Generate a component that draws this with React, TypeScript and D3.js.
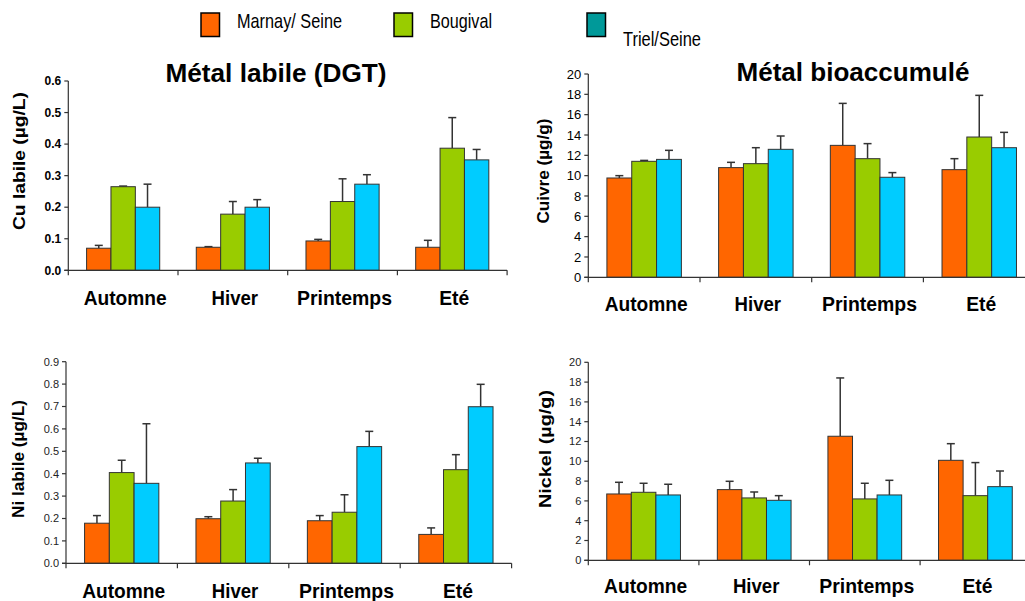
import React from "react";
import * as d3 from "d3";

// Seasons, sampling sites and colours
const seasons = ["Automne", "Hiver", "Printemps", "Eté"];
const sites = ["Marnay/ Seine", "Bougival", "Triel/Seine"];
const barColors = ["#FF6600", "#99CC00", "#00CCFF"];
const legendColors = ["#FF6600", "#99CC00", "#009999"];

// Labile copper (DGT), µg/L — rows: seasons, columns: sites
const cuLabile = [
  [0.07, 0.265, 0.2],
  [0.073, 0.178, 0.2],
  [0.093, 0.218, 0.273],
  [0.073, 0.387, 0.35],
];
const cuLabileErr = [
  [0.009, 0.002, 0.073],
  [0.002, 0.04, 0.024],
  [0.005, 0.072, 0.03],
  [0.022, 0.097, 0.033],
];

// Bioaccumulated copper, µg/g
const cuivre = [
  [9.77, 11.41, 11.6],
  [10.79, 11.18, 12.59],
  [12.98, 11.67, 9.84],
  [10.59, 13.8, 12.75],
];
const cuivreErr = [
  [0.23, 0.09, 0.89],
  [0.52, 1.57, 1.31],
  [4.13, 1.48, 0.46],
  [1.08, 4.1, 1.51],
];

// Labile nickel (DGT), µg/L
const niLabile = [
  [0.179, 0.405, 0.357],
  [0.199, 0.278, 0.448],
  [0.19, 0.228, 0.521],
  [0.129, 0.418, 0.699],
];
const niLabileErr = [
  [0.034, 0.055, 0.266],
  [0.009, 0.051, 0.021],
  [0.023, 0.078, 0.068],
  [0.029, 0.067, 0.1],
];

// Bioaccumulated nickel, µg/g
const nickel = [
  [6.7, 6.87, 6.6],
  [7.14, 6.3, 6.06],
  [12.53, 6.2, 6.6],
  [10.1, 6.53, 7.44],
];
const nickelErr = [
  [1.18, 0.91, 1.08],
  [0.84, 0.6, 0.47],
  [5.89, 1.58, 1.48],
  [1.68, 3.34, 1.58],
];

const cuLabileTicks = [0, 0.1, 0.2, 0.3, 0.4, 0.5, 0.6];
const niLabileTicks = [0, 0.1, 0.2, 0.3, 0.4, 0.5, 0.6, 0.7, 0.8, 0.9];
const bioTicks = [0, 2, 4, 6, 8, 10, 12, 14, 16, 18, 20];

const FONT = "'Liberation Sans', Arial, Helvetica, sans-serif";
const AXIS = "#333";

// The typeface is drawn slightly condensed: each text gets a fixed length
const seasonLabelWidth: Record<string, number> = {
  Automne: 83,
  Hiver: 46.5,
  Printemps: 95,
  Eté: 30,
};

type PanelProps = {
  values: number[][];
  errors: number[][];
  ticks: number[];
  tickFormat: (v: number) => string;
  x0: number;
  bandWidth: number;
  yBottom: number;
  yTop: number;
  tickFont: { size: number; weight: string; color: string };
  yLabel: string;
  yLabelPos: [number, number];
  yLabelLength: number;
  catBaseline: number;
  title?: string;
  titlePos?: [number, number];
  titleLength?: number;
};

function Panel(p: PanelProps) {
  const maxTick = p.ticks[p.ticks.length - 1];
  const y = d3.scaleLinear().domain([0, maxTick]).range([p.yBottom, p.yTop]);
  const xEnd = p.x0 + p.bandWidth * seasons.length;
  const x = d3.scaleBand().domain(seasons).range([p.x0, xEnd]).padding(0);
  const xs = d3
    .scaleBand()
    .domain(sites)
    .range([0, x.bandwidth()])
    .paddingInner(0)
    .paddingOuter(0.75);
  const bw = xs.bandwidth();
  const cap = 8;

  return (
    <g>
      {p.title && p.titlePos && (
        <text
          x={p.titlePos[0] - (p.titleLength ?? 0) / 2}
          y={p.titlePos[1]}
          fontFamily={FONT}
          fontWeight="bold"
          fontSize={25}
          textLength={p.titleLength}
          lengthAdjust="spacingAndGlyphs"
          fill="#000"
        >
          {p.title}
        </text>
      )}

      {/* bars with upper error bars */}
      {seasons.map((s, i) => (
        <g key={s} transform={`translate(${x(s)},0)`}>
          {sites.map((site, j) => {
            const v = p.values[i][j];
            const e = p.errors[i][j];
            const bx = xs(site)!;
            const cx = bx + bw / 2;
            return (
              <g key={site}>
                <line
                  x1={cx}
                  x2={cx}
                  y1={y(v)}
                  y2={y(v + e)}
                  stroke={AXIS}
                  strokeWidth={1.5}
                />
                <line
                  x1={cx - cap / 2}
                  x2={cx + cap / 2}
                  y1={y(v + e)}
                  y2={y(v + e)}
                  stroke={AXIS}
                  strokeWidth={1.5}
                />
                <rect
                  x={bx}
                  y={y(v)}
                  width={bw}
                  height={y(0) - y(v)}
                  fill={barColors[j]}
                  stroke={AXIS}
                  strokeWidth={1}
                />
              </g>
            );
          })}
        </g>
      ))}

      {/* y axis */}
      <line x1={p.x0} x2={p.x0} y1={p.yTop} y2={p.yBottom} stroke={AXIS} strokeWidth={1.2} />
      {p.ticks.map((t) => (
        <g key={t}>
          <line x1={p.x0 - 4} x2={p.x0} y1={y(t)} y2={y(t)} stroke={AXIS} strokeWidth={1.2} />
          <text
            x={p.x0 - 7}
            y={y(t)}
            dy="0.35em"
            textAnchor="end"
            fontFamily={FONT}
            fontSize={p.tickFont.size}
            fontWeight={p.tickFont.weight}
            fill={p.tickFont.color}
          >
            {p.tickFormat(t)}
          </text>
        </g>
      ))}

      {/* x axis with category separators */}
      <line x1={p.x0 - 4} x2={xEnd} y1={p.yBottom} y2={p.yBottom} stroke={AXIS} strokeWidth={1.2} />
      {[...seasons.map((s) => x(s)!), xEnd].map((tx, k) => (
        <line key={k} x1={tx} x2={tx} y1={p.yBottom} y2={p.yBottom + 5} stroke={AXIS} strokeWidth={1.2} />
      ))}
      {seasons.map((s) => (
        <text
          key={s}
          x={x(s)! + x.bandwidth() / 2 + 2 - seasonLabelWidth[s] / 2}
          y={p.catBaseline}
          fontFamily={FONT}
          fontWeight="bold"
          fontSize={21}
          textLength={seasonLabelWidth[s]}
          lengthAdjust="spacingAndGlyphs"
          fill="#000"
        >
          {s}
        </text>
      ))}

      <text
        transform={`translate(${p.yLabelPos[0]},${p.yLabelPos[1]}) rotate(-90)`}
        x={-p.yLabelLength / 2}
        dy="0.35em"
        fontFamily={FONT}
        fontWeight="bold"
        fontSize={17}
        textLength={p.yLabelLength}
        lengthAdjust="spacingAndGlyphs"
        fill="#000"
      >
        {p.yLabel}
      </text>
    </g>
  );
}

const fmt1 = d3.format(".1f");
const fmt0 = d3.format("d");

export default function App() {
  const legendItems = [
    { sq: 201, tx: 237, base: 28, len: 105 },
    { sq: 394, tx: 430, base: 28, len: 62 },
    { sq: 587, tx: 623, base: 46, len: 78 },
  ];
  return (
    <svg
      width={1025}
      height={601}
      style={{ position: "absolute", left: 0, top: 0, background: "#fff" }}
    >
      <rect width={1025} height={601} fill="#fff" />

      {/* legend */}
      {sites.map((s, i) => (
        <g key={s}>
          <rect
            x={legendItems[i].sq}
            y={13}
            width={18.5}
            height={23.5}
            fill={legendColors[i]}
            stroke="#000"
            strokeWidth={1.5}
          />
          <text
            x={legendItems[i].tx}
            y={legendItems[i].base}
            fontFamily={FONT}
            fontSize={21}
            textLength={legendItems[i].len}
            lengthAdjust="spacingAndGlyphs"
            fill="#000"
          >
            {s}
          </text>
        </g>
      ))}

      <Panel
        values={cuLabile}
        errors={cuLabileErr}
        ticks={cuLabileTicks}
        tickFormat={fmt1}
        x0={68.3}
        bandWidth={109.7}
        yBottom={270.3}
        yTop={81}
        tickFont={{ size: 12, weight: "bold", color: "#000" }}
        yLabel="Cu labile (µg/L)"
        yLabelPos={[19, 161]}
        yLabelLength={138}
        catBaseline={305}
        title="Métal labile (DGT)"
        titlePos={[276, 82]}
        titleLength={221}
      />
      <Panel
        values={cuivre}
        errors={cuivreErr}
        ticks={bioTicks}
        tickFormat={fmt0}
        x0={588.3}
        bandWidth={111.7}
        yBottom={277.3}
        yTop={74}
        tickFont={{ size: 13, weight: "normal", color: "#000" }}
        yLabel="Cuivre (µg/g)"
        yLabelPos={[543, 171]}
        yLabelLength={105}
        catBaseline={311}
        title="Métal bioaccumulé"
        titlePos={[853, 81]}
        titleLength={233}
      />
      <Panel
        values={niLabile}
        errors={niLabileErr}
        ticks={niLabileTicks}
        tickFormat={fmt1}
        x0={66}
        bandWidth={111.4}
        yBottom={563.3}
        yTop={361.7}
        tickFont={{ size: 11, weight: "normal", color: "#222" }}
        yLabel="Ni labile (µg/L)"
        yLabelPos={[18.5, 459]}
        yLabelLength={118}
        catBaseline={598}
      />
      <Panel
        values={nickel}
        errors={nickelErr}
        ticks={bioTicks}
        tickFormat={fmt0}
        x0={588.3}
        bandWidth={110.6}
        yBottom={560.3}
        yTop={362.3}
        tickFont={{ size: 11, weight: "normal", color: "#222" }}
        yLabel="Nickel (µg/g)"
        yLabelPos={[545, 449]}
        yLabelLength={118}
        catBaseline={593}
      />
    </svg>
  );
}
